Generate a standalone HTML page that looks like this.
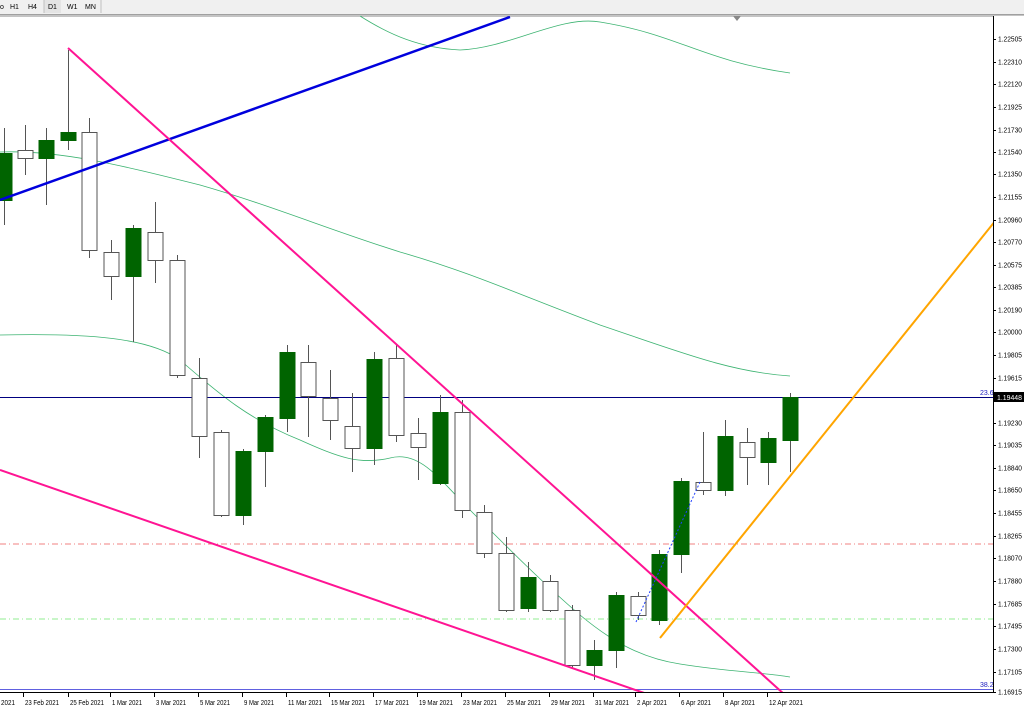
<!DOCTYPE html>
<html><head><meta charset="utf-8"><style>
html,body{margin:0;padding:0;background:#fff;width:1024px;height:710px;overflow:hidden}
svg{display:block}
text{font-family:"Liberation Sans",sans-serif;font-size:7px;fill:#000}
</style></head><body>
<svg id="s" width="1024" height="710" xmlns="http://www.w3.org/2000/svg">
<rect x="0" y="0" width="1024" height="14" fill="#f0f0f0"/>
<line x1="0" y1="14.5" x2="1024" y2="14.5" stroke="#a0a0a0"/>
<line x1="0" y1="16" x2="1024" y2="16" stroke="#888"/>
<rect x="44" y="0" width="17" height="13" fill="#e4e4e4"/>
<line x1="44" y1="0" x2="44" y2="13" stroke="#c0c0c0"/>
<line x1="101" y1="0" x2="101" y2="13" stroke="#c0c0c0"/>
<text x="0" y="9" fill="#444">o</text><text x="10" y="9">H1</text><text x="28" y="9">H4</text><text x="48" y="9">D1</text><text x="67" y="9">W1</text><text x="85" y="9">MN</text>
<g fill="none" stroke="#3cb371" stroke-width="0.8">
<path d="M360,16 C390,35 420,48 460,50 C510,48 560,15 600,22 C680,35 700,60 790,73"/>
<path d="M0,152 C60,150 120,165 200,185 C270,205 330,230 400,252 C470,272 520,295 600,325 C680,352 730,372 790,376"/>
<path d="M0,335 C90,333 150,338 180,360 C220,395 250,420 300,440 C340,458 360,465 390,458 C420,450 440,480 470,510 C510,550 545,585 580,615 C610,640 640,658 680,664 C730,672 760,672 790,677"/>
</g>
<line x1="0" y1="544" x2="993" y2="544" stroke="#f08080" stroke-dasharray="6,3,1,3"/>
<line x1="0" y1="619" x2="993" y2="619" stroke="#90ee90" stroke-dasharray="6,3,1,3"/>
<line x1="0" y1="397.5" x2="993" y2="397.5" stroke="#000080"/>
<line x1="0" y1="689.5" x2="993" y2="689.5" stroke="#6060e0"/>
<text x="980" y="395" style="fill:#2020c0">23.6</text>
<text x="980" y="687" style="fill:#2020c0">38.2</text>
<g id="c"></g>
<line x1="0" y1="200" x2="510" y2="17" stroke="#0000dd" stroke-width="2.5"/>
<line x1="68" y1="48" x2="785" y2="695" stroke="#ff1493" stroke-width="2"/>
<line x1="0" y1="470" x2="650" y2="695" stroke="#ff1493" stroke-width="2"/>
<line x1="660" y1="638" x2="1000" y2="215" stroke="#ffa500" stroke-width="2"/>
<line x1="636" y1="622" x2="700" y2="482" stroke="#2040ff" stroke-dasharray="2,2"/>
<polygon points="733,16 741,16 737,21" fill="#888"/>
<rect x="993" y="16" width="31" height="694" fill="#fff"/>
<rect x="0" y="693" width="1024" height="17" fill="#fff"/>
<line x1="993.5" y1="16" x2="993.5" y2="692" stroke="#000"/>
<line x1="0" y1="692.5" x2="993" y2="692.5" stroke="#000"/>
<g id="ax"></g>
<rect x="994" y="392" width="30" height="10" fill="#000"/>
<text x="997" y="400" textLength="25" lengthAdjust="spacingAndGlyphs" style="fill:#fff">1.19448</text>
</svg>
<script>
var N='http://www.w3.org/2000/svg',g=document.getElementById('c');
function el(t,a,p){var e=document.createElementNS(N,t);for(var k in a)e.setAttribute(k,a[k]);(p||g).appendChild(e);return e;}
var C=[[4,'g',153,200,128,225],[25,'w',150,158,125,175],[46,'g',140,158,128,205],[68,'g',132,140,50,150],[89,'w',132,250,118,258],[111,'w',252,276,240,300],[133,'g',228,276,225,342],[155,'w',232,260,202,283],[177,'w',260,375,255,378],[199,'w',378,436,358,458],[221,'w',432,515,430,517],[243,'g',451,515,449,525],[265,'g',417,451,415,487],[287,'g',352,418,345,432],[308,'w',362,396,345,437],[330,'w',398,420,370,440],[352,'w',426,448,393,472],[374,'g',359,448,352,465],[396,'w',358,435,345,442],[418,'w',433,447,418,480],[440,'g',412,483,395,485],[462,'w',412,510,400,518],[484,'w',512,553,505,558],[506,'w',553,610,537,612],[528,'g',577,608,562,612],[550,'w',581,610,575,612],[572,'w',610,665,605,668],[594,'g',650,665,640,680],[616,'g',595,650,592,668],[638,'w',596,615,592,620],[659,'g',554,620,550,625],[681,'g',481,554,478,573],[703,'w',482,490,432,495],[725,'g',436,490,420,496],[747,'w',442,457,428,485],[768,'g',438,462,432,485],[790,'g',397,440,393,472]];
C.forEach(function(c){var x=c[0];
el('line',{x1:x+.5,y1:c[4],x2:x+.5,y2:c[5],stroke:'#555'});
el('rect',{x:x-7,y:c[2]+.5,width:15,height:c[3]-c[2],fill:c[1]=='g'?'#006400':'#fff',stroke:c[1]=='g'?'#006400':'#555'});});
var ax=document.getElementById('ax');
var P=[['1.22505',39],['1.22310',62],['1.22120',84],['1.21925',107],['1.21730',130],['1.21540',152],['1.21350',174],['1.21155',197],['1.20960',220],['1.20770',242],['1.20575',265],['1.20385',287],['1.20190',310],['1.20000',332],['1.19805',355],['1.19615',378],['1.19230',423],['1.19035',445],['1.18840',468],['1.18650',490],['1.18455',513],['1.18265',536],['1.18070',558],['1.17880',581],['1.17685',604],['1.17495',626],['1.17300',649],['1.17105',672],['1.16915',692]];
P.forEach(function(p){el('line',{x1:993,y1:p[1]+.5,x2:996,y2:p[1]+.5,stroke:'#000'},ax);var t=el('text',{x:998,y:p[1]+2.5,textLength:24,lengthAdjust:'spacingAndGlyphs'},ax);t.textContent=p[0];});
var D=[['2021',8],['23 Feb 2021',40],['25 Feb 2021',85],['1 Mar 2021',127],['3 Mar 2021',171],['5 Mar 2021',215],['9 Mar 2021',259],['11 Mar 2021',303],['15 Mar 2021',346],['17 Mar 2021',390],['19 Mar 2021',434],['23 Mar 2021',478],['25 Mar 2021',522],['29 Mar 2021',566],['31 Mar 2021',610],['2 Apr 2021',652],['6 Apr 2021',696],['8 Apr 2021',740],['12 Apr 2021',784]];
D.forEach(function(d,i){var x=d[1]-(i?16:8);var w=d[0].length>10?34:(d[0].length==4?14:30);if(i)el('line',{x1:x-0.5,y1:693,x2:x-0.5,y2:697,stroke:'#000'},ax);var t=el('text',{x:x+1,y:705,textLength:w,lengthAdjust:'spacingAndGlyphs'},ax);t.textContent=d[0];});
</script>
</body></html>
